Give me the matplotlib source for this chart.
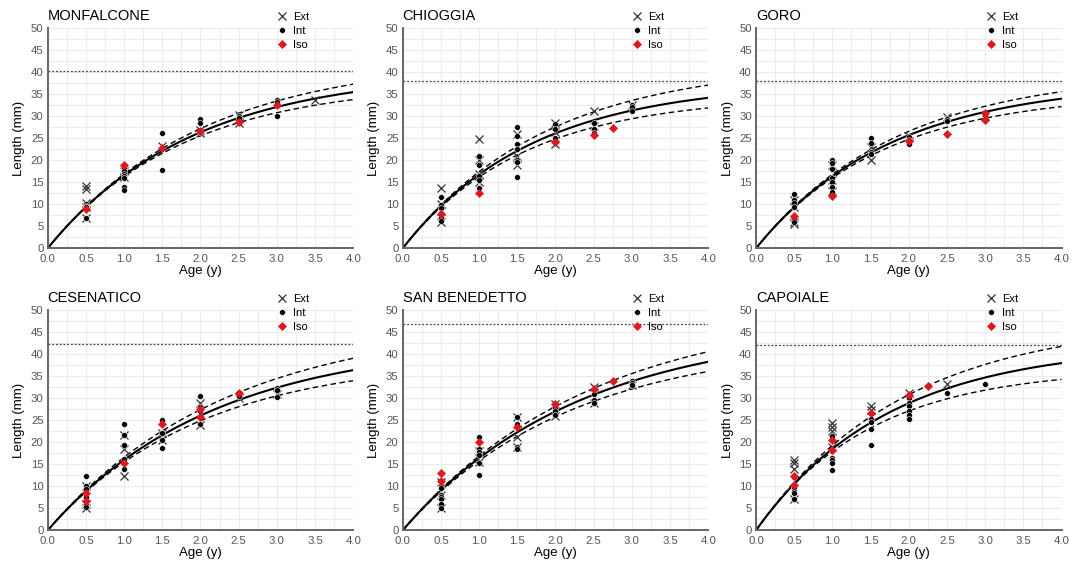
import numpy as np
import matplotlib.pyplot as plt
from matplotlib.ticker import MultipleLocator, FormatStrFormatter

plt.rcParams['font.family'] = ['Liberation Sans', 'DejaVu Sans']

sites = ['MONFALCONE', 'CHIOGGIA', 'GORO', 'CESENATICO', 'SAN BENEDETTO', 'CAPOIALE']

ext_monf = {0.5: [14.1, 13.5, 10.3, 9.5, 6.8], 1.0: [17.5, 16.3], 1.5: [23.2],
            2.0: [26.3, 26.8], 2.5: [30.2, 28.4], 3.5: [33.8]}
int_monf = {0.5: [10.1, 9.7, 9.3, 6.8], 1.0: [18.2, 17.6, 17.0, 16.5, 16.0, 14.0, 13.3],
            1.5: [26.3, 17.9], 2.0: [29.4, 28.4, 26.5], 2.5: [30.0, 29.6], 3.0: [33.8, 33.2, 30.1]}
iso_monf = {0.5: [8.9], 1.0: [18.9], 1.5: [22.8], 2.0: [26.7], 2.5: [28.6], 3.0: [32.6]}

ext_chio = {0.5: [13.6, 10.0, 8.5, 6.0], 1.0: [24.8, 20.0, 17.0, 15.0], 1.5: [26.0, 21.0, 19.0],
            2.0: [28.5, 26.5, 23.8], 2.5: [31.2, 27.8], 3.0: [32.5]}
int_chio = {0.5: [11.6, 9.8, 9.2, 8.0, 7.0, 6.2], 1.0: [21.0, 19.0, 16.5, 15.6, 13.6],
            1.5: [27.6, 25.6, 23.8, 22.6, 20.0, 19.6, 16.1], 2.0: [28.2, 27.1, 25.0],
            2.5: [28.5, 27.0, 26.2], 3.0: [32.6, 32.0, 31.3]}
iso_chio = {0.5: [7.7], 1.0: [12.6], 2.0: [24.2], 2.5: [25.8], 2.75: [27.4]}

ext_goro = {0.5: [11.0, 9.5, 6.0, 5.5], 1.0: [19.0, 15.5, 13.0], 1.5: [23.0, 20.0],
            2.0: [25.5], 2.5: [29.8], 3.0: [30.0]}
int_goro = {0.5: [12.3, 11.0, 10.2, 9.3, 6.5, 6.0], 1.0: [20.0, 19.3, 18.0, 16.0, 15.0, 14.0, 12.8],
            1.5: [25.0, 24.0, 22.0, 21.5], 2.0: [25.3, 24.6, 23.7], 2.5: [29.3, 28.9], 3.0: [30.4]}
iso_goro = {0.5: [7.3], 1.0: [12.0], 2.0: [24.4], 2.5: [26.0], 3.0: [30.7, 29.1]}

ext_cese = {0.5: [10.0, 6.0, 5.0], 1.0: [21.7, 18.5, 12.4], 1.5: [22.0, 20.5],
            2.0: [29.0, 24.0], 2.5: [30.0], 3.0: [31.0]}
int_cese = {0.5: [12.4, 10.0, 9.3, 7.5, 5.8, 5.3], 1.0: [24.1, 21.6, 19.3, 16.3, 14.0],
            1.5: [25.0, 22.2, 20.5, 18.8], 2.0: [30.5, 28.0, 27.0, 24.2], 2.5: [31.1, 30.5],
            3.0: [32.3, 31.8, 30.4]}
iso_cese = {0.5: [8.4, 6.7], 1.0: [15.4], 1.5: [24.2], 2.0: [27.5, 25.8], 2.5: [31.1]}

ext_sben = {0.5: [11.0, 8.0, 5.0], 1.0: [18.0, 15.5], 1.5: [25.8, 21.2, 19.0],
            2.0: [28.8, 26.0], 2.5: [32.5, 29.0], 3.0: [33.0]}
int_sben = {0.5: [10.0, 9.5, 8.0, 7.5, 7.0, 6.0, 5.0], 1.0: [21.1, 18.5, 17.8, 17.2, 15.3, 12.5],
            1.5: [25.8, 24.2, 19.0, 18.5], 2.0: [27.8, 27.0, 26.2], 2.5: [31.0, 29.5, 29.0],
            3.0: [34.0, 33.5, 33.0]}
iso_sben = {0.5: [13.0, 11.3], 1.0: [20.0], 1.5: [23.4], 2.0: [28.7], 2.5: [32.2], 2.75: [33.9]}

ext_capo = {0.5: [15.9, 15.2, 14.0, 7.0], 1.0: [24.3, 23.4, 22.5, 19.0], 1.5: [28.2, 27.3],
            2.0: [31.2], 2.5: [33.3]}
int_capo = {0.5: [12.0, 10.0, 9.5, 9.0, 8.5, 7.0], 1.0: [21.5, 18.0, 16.5, 16.0, 15.2, 13.8],
            1.5: [25.2, 24.5, 23.0, 19.3], 2.0: [30.0, 29.0, 28.2, 27.0, 26.2, 25.2],
            2.5: [31.1], 3.0: [33.3]}
iso_capo = {0.5: [12.3, 10.4], 1.0: [20.5, 18.2], 1.5: [26.6], 2.0: [30.7], 2.25: [32.7]}

ext_all = [ext_monf, ext_chio, ext_goro, ext_cese, ext_sben, ext_capo]
int_all = [int_monf, int_chio, int_goro, int_cese, int_sben, int_capo]
iso_all = [iso_monf, iso_chio, iso_goro, iso_cese, iso_sben, iso_capo]

# L-infinity (dotted line) and growth curve readings at age 1 and age 4
linf_line = [40.2, 38.0, 38.0, 42.3, 46.8, 42.0]
mean_l1 = [16.6, 16.8, 16.4, 16.0, 16.4, 18.5]
mean_l4 = [35.5, 34.2, 34.0, 36.4, 38.3, 38.0]
up_l1 = [16.9, 17.4, 16.8, 16.6, 16.9, 19.3]
up_l4 = [37.3, 37.1, 35.6, 39.1, 40.6, 41.8]
lo_l1 = [16.3, 16.2, 16.0, 15.5, 15.8, 17.9]
lo_l4 = [33.8, 31.9, 32.2, 34.0, 36.1, 34.3]


def vb_from_two(l1, l4):
    # von Bertalanffy L = Linf(1-exp(-Kt)) through the two read values
    r = l4 / l1
    roots = np.roots([1, 1, 1, 1 - r])
    q = [z.real for z in roots if abs(z.imag) < 1e-9 and 0 < z.real < 1][0]
    return l1 / (1 - q), -np.log(q)


def flat(d):
    xs, ys = [], []
    for age, vals in d.items():
        xs += [age] * len(vals)
        ys += vals
    return xs, ys


W, H = 1079, 564
fig = plt.figure(figsize=(W / 100, H / 100), dpi=100)
lefts = [47.7, 402.7, 756.0]
bottoms = [248.3, 530.3]
aw, ah = 305.5, 220.0

t = np.linspace(0, 4, 300)
for i, site in enumerate(sites):
    r, c = divmod(i, 3)
    ax = fig.add_axes([lefts[c] / W, (H - bottoms[r]) / H, aw / W, ah / H])

    ax.axhline(linf_line[i], color='#444444', lw=0.9, ls=(0, (1.5, 1.5)))
    for l1, l4, ls, lw in [(up_l1[i], up_l4[i], (0, (4, 2.5)), 1.0),
                           (lo_l1[i], lo_l4[i], (0, (4, 2.5)), 1.0),
                           (mean_l1[i], mean_l4[i], '-', 1.5)]:
        linf, k = vb_from_two(l1, l4)
        ax.plot(t, linf * (1 - np.exp(-k * t)), color='black', lw=lw, ls=ls)

    x, y = flat(ext_all[i])
    h1, = ax.plot(x, y, ls='none', marker='x', ms=6, mew=0.9, color='#333333', label='Ext')
    x, y = flat(int_all[i])
    h2, = ax.plot(x, y, ls='none', marker='o', ms=4.2, mfc='black', mec='white', mew=0.4,
                  label='Int')
    x, y = flat(iso_all[i])
    h3, = ax.plot(x, y, ls='none', marker='D', ms=4.2, mfc='#e8141b', mec='#e8141b', mew=0.5,
                  label='Iso')

    ax.set_xlim(0, 4)
    ax.set_ylim(0, 50)
    ax.xaxis.set_major_locator(MultipleLocator(0.5))
    ax.xaxis.set_minor_locator(MultipleLocator(0.25))
    ax.yaxis.set_major_locator(MultipleLocator(5))
    ax.yaxis.set_minor_locator(MultipleLocator(2.5))
    ax.xaxis.set_major_formatter(FormatStrFormatter('%.1f'))
    ax.grid(which='both', color='#ececec', lw=0.8)
    ax.set_axisbelow(True)
    ax.tick_params(which='both', length=0, labelsize=8.2, labelcolor='#555555')
    ax.tick_params(axis='x', pad=4.3)
    ax.tick_params(axis='y', pad=3)
    for s in ['top', 'right']:
        ax.spines[s].set_visible(False)
    for s in ['left', 'bottom']:
        ax.spines[s].set_color('#666666')
        ax.spines[s].set_linewidth(1.4)

    ax.set_xlabel('Age (y)', fontsize=9.5, labelpad=0.5)
    ax.set_ylabel('Length (mm)', fontsize=9.5, labelpad=4)
    ax.text(0.0, 1.056, site, transform=ax.transAxes, fontsize=10.5, va='center', ha='left')
    ax.legend(handles=[h1, h2, h3], loc='upper left', bbox_to_anchor=(0.75, 1.073),
              frameon=False, fontsize=8, handlelength=1.0, handletextpad=0.5,
              labelspacing=0.35, borderpad=0, borderaxespad=0)

fig.savefig('out.png', dpi=100)
